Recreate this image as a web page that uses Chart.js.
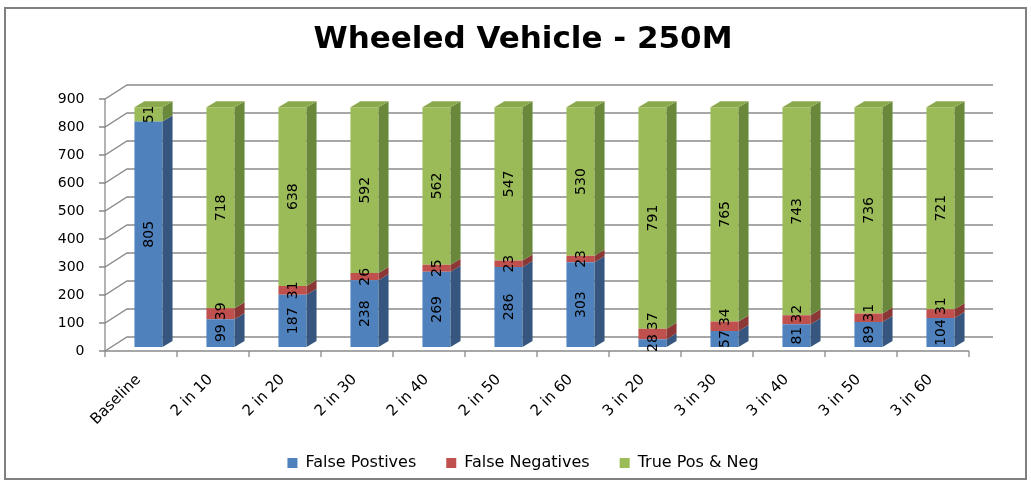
<!DOCTYPE html>
<html>
<head>
<meta charset="utf-8">
<script src="https://cdn.jsdelivr.net/npm/chart.js@4.4.1/dist/chart.umd.min.js"></script>
<style>
  body { margin: 0; background: #fff; }
  canvas { display: block; }
</style>
</head>
<body>
<canvas id="chart" width="1031" height="483"></canvas>
<script>
// Chart data
const categories = ['Baseline', '2 in 10', '2 in 20', '2 in 30', '2 in 40', '2 in 50', '2 in 60',
  '3 in 20', '3 in 30', '3 in 40', '3 in 50', '3 in 60'];
const falsePositives = [805, 99, 187, 238, 269, 286, 303, 28, 57, 81, 89, 104];
const falseNegatives = [0, 39, 31, 26, 25, 23, 23, 37, 34, 32, 31, 31];
const truePosNeg = [51, 718, 638, 592, 562, 547, 530, 791, 765, 743, 736, 721];
const yTicks = [0, 100, 200, 300, 400, 500, 600, 700, 800, 900];

// colours: front, side, top
const faces = [
  ['#4F81BD', '#36567f', '#4877ad'],
  ['#C0504D', '#8a3735', '#b04845'],
  ['#9BBB59', '#6a883c', '#8aa94c']
];

// depth offsets
const FRONT = { dx: -7.5, dy: 4 };
const BACK = { dx: 14.5, dy: -10 };
const BAR_DX = 10, BAR_DY = 6;

const wallsPlugin = {
  id: 'walls',
  afterLayout(chart) {
    // put legend text line at the reference height
    const lg = chart.legend;
    const h = lg.bottom - lg.top;
    lg.top = 463 - 30 - 8;
    lg.bottom = lg.top + h;
  },
  beforeDraw(chart) {
    const ctx = chart.ctx;
    ctx.save();
    ctx.strokeStyle = '#808080';
    ctx.lineWidth = 2;
    ctx.strokeRect(5, 8, 1021, 471);
    ctx.restore();
  },
  beforeDatasetsDraw(chart) {
    const ctx = chart.ctx;
    const area = chart.chartArea;
    const y = chart.scales.y;
    ctx.save();
    ctx.strokeStyle = '#8a8a8a';
    ctx.lineWidth = 1.3;
    yTicks.forEach(v => {
      const py = y.getPixelForValue(v);
      ctx.beginPath();
      ctx.moveTo(area.left + FRONT.dx - 6, py + FRONT.dy);
      ctx.lineTo(area.left + FRONT.dx, py + FRONT.dy);
      ctx.lineTo(area.left + BACK.dx, py + BACK.dy);
      ctx.lineTo(area.right + BACK.dx + 2, py + BACK.dy);
      ctx.stroke();
    });
    // front vertical axis
    ctx.beginPath();
    ctx.moveTo(area.left + FRONT.dx, y.getPixelForValue(900) + FRONT.dy);
    ctx.lineTo(area.left + FRONT.dx, y.getPixelForValue(0) + FRONT.dy);
    ctx.stroke();
    // front category axis with ticks
    const fy = y.getPixelForValue(0) + FRONT.dy;
    ctx.beginPath();
    ctx.moveTo(area.left + FRONT.dx, fy);
    ctx.lineTo(area.right + FRONT.dx, fy);
    const step = (area.right - area.left) / categories.length;
    for (let k = 0; k <= categories.length; k++) {
      const tx = area.left + FRONT.dx + step * k;
      ctx.moveTo(tx, fy);
      ctx.lineTo(tx, fy + 6);
    }
    ctx.stroke();
    ctx.restore();
  },
  afterDatasetsDraw(chart) {
    const ctx = chart.ctx;
    const n = chart.data.datasets.length;
    ctx.save();
    // side and top faces
    for (let i = 0; i < n; i++) {
      const meta = chart.getDatasetMeta(i);
      meta.data.forEach((bar, j) => {
        const val = chart.data.datasets[i].data[j];
        if (!val) return;
        const p = bar.getProps(['x', 'y', 'base', 'width'], true);
        const l = p.x - p.width / 2, r = p.x + p.width / 2;
        const top = Math.min(p.y, p.base), bot = Math.max(p.y, p.base);
        ctx.fillStyle = faces[i][1];
        ctx.beginPath();
        ctx.moveTo(r, bot);
        ctx.lineTo(r + BAR_DX, bot - BAR_DY);
        ctx.lineTo(r + BAR_DX, top - BAR_DY);
        ctx.lineTo(r, top);
        ctx.closePath();
        ctx.fill();
        let isTop = true;
        for (let k = i + 1; k < n; k++) {
          if (chart.data.datasets[k].data[j]) isTop = false;
        }
        if (isTop) {
          ctx.fillStyle = faces[i][2];
          ctx.beginPath();
          ctx.moveTo(l, top);
          ctx.lineTo(l + BAR_DX, top - BAR_DY);
          ctx.lineTo(r + BAR_DX, top - BAR_DY);
          ctx.lineTo(r, top);
          ctx.closePath();
          ctx.fill();
        }
      });
    }
    // value labels, rotated; push a label up when it would hit the one below
    ctx.fillStyle = '#000';
    ctx.font = '14px "DejaVu Sans"';
    ctx.textAlign = 'center';
    ctx.textBaseline = 'middle';
    categories.forEach((c, j) => {
      let prevTop = Infinity;
      for (let i = 0; i < n; i++) {
        const val = chart.data.datasets[i].data[j];
        if (!val) continue;
        const p = chart.getDatasetMeta(i).data[j].getProps(['x', 'y', 'base'], true);
        const half = ctx.measureText(String(val)).width / 2;
        let cy = (p.y + p.base) / 2;
        if (cy + half > prevTop - 4) cy = prevTop - 4 - half;
        prevTop = cy - half;
        ctx.save();
        ctx.translate(p.x + 1, cy);
        ctx.rotate(-Math.PI / 2);
        ctx.fillText(String(val), 0, 0);
        ctx.restore();
      }
    });
    ctx.restore();
  }
};

new Chart(document.getElementById('chart'), {
  type: 'bar',
  data: {
    labels: categories,
    datasets: [
      { label: 'False Postives', data: falsePositives, backgroundColor: faces[0][0] },
      { label: 'False Negatives', data: falseNegatives, backgroundColor: faces[1][0] },
      { label: 'True Pos & Neg', data: truePosNeg, backgroundColor: faces[2][0] }
    ]
  },
  options: {
    responsive: false,
    animation: false,
    layout: { padding: { left: 15, right: 0, top: 0, bottom: 0 } },
    datasets: { bar: { categoryPercentage: 1, barPercentage: 0.39, borderWidth: 0 } },
    scales: {
      x: {
        stacked: true,
        grid: { display: false, drawTicks: false },
        border: { display: false },
        afterFit(scale) { scale.height = 80; },
        ticks: {
          autoSkip: false, minRotation: 45, maxRotation: 45,
          padding: 24, labelOffset: -10,
          color: '#000', font: { family: 'DejaVu Sans', size: 15 }
        }
      },
      y: {
        stacked: true,
        min: 0, max: 900,
        grid: { display: false, drawTicks: false },
        border: { display: false },
        afterFit(scale) { scale.width = 97.5; },
        ticks: {
          stepSize: 100, padding: 28, labelOffset: 4,
          color: '#000', font: { family: 'DejaVu Sans', size: 14 }
        }
      },
      // empty right-hand axis that only reserves space beside the plot
      y2: {
        position: 'right',
        grid: { display: false, drawTicks: false },
        border: { display: false },
        ticks: { display: false },
        afterFit(scale) { scale.width = 54.5; }
      }
    },
    plugins: {
      title: {
        display: true,
        text: 'Wheeled Vehicle - 250M',
        color: '#000',
        font: { family: 'DejaVu Sans', size: 31, weight: 'bold' },
        padding: { top: 21.5, bottom: 36.3 }
      },
      legend: {
        position: 'bottom',
        labels: {
          boxWidth: 10, boxHeight: 10, padding: 30,
          color: '#000', font: { family: 'DejaVu Sans', size: 16 }
        }
      },
      tooltip: { enabled: false }
    }
  },
  plugins: [wallsPlugin]
});
</script>
</body>
</html>
